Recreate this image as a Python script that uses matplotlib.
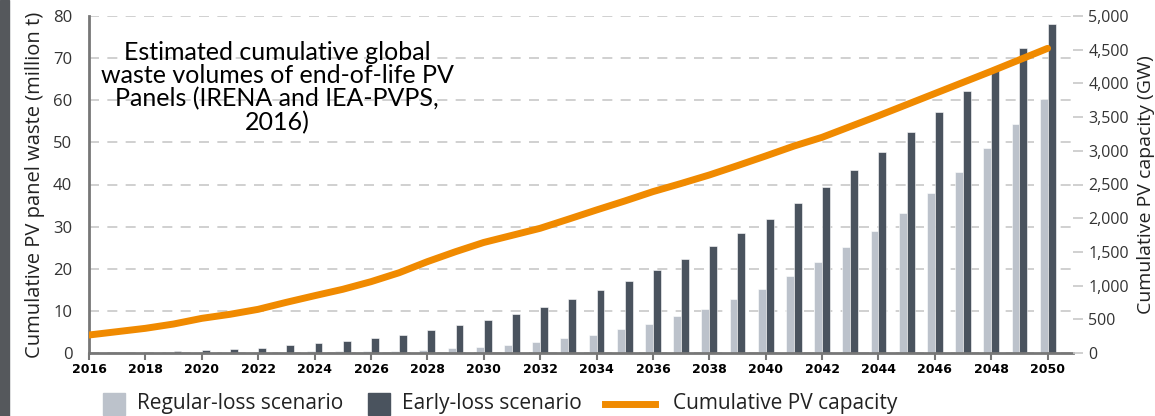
import matplotlib.pyplot as plt
import matplotlib.ticker as mticker
from matplotlib.patches import Rectangle
from matplotlib.lines import Line2D
import numpy as np

# data
years = np.arange(2016, 2051)
regular_loss = [0.05, 0.08, 0.1, 0.15, 0.2, 0.25, 0.3, 0.35, 0.4, 0.45, 0.4, 0.5,
                0.8, 1.2, 1.5, 2.0, 2.5, 3.6, 4.3, 5.6, 6.9, 8.7, 10.5, 12.8,
                15.3, 18.2, 21.5, 25.1, 28.9, 33.2, 38.1, 43.0, 48.6, 54.3, 60.4]
early_loss = [0.1, 0.2, 0.3, 0.5, 0.8, 1.0, 1.3, 1.8, 2.3, 2.9, 3.6, 4.3,
              5.4, 6.6, 7.9, 9.3, 11.0, 12.8, 14.9, 17.2, 19.7, 22.2, 25.3, 28.6,
              31.9, 35.6, 39.4, 43.5, 47.8, 52.4, 57.1, 62.2, 67.2, 72.4, 78.1]
cap_years = [2016, 2018, 2019, 2020, 2021, 2022, 2023, 2024, 2025, 2026, 2027,
             2028, 2029, 2030, 2032, 2033, 2034, 2035, 2036, 2037, 2038, 2039,
             2040, 2041, 2042, 2044, 2046, 2048, 2050]
cap_gw = [267, 366, 430, 514, 574, 648, 752, 850, 945, 1058, 1191,
          1355, 1503, 1640, 1850, 1985, 2122, 2255, 2394, 2515, 2641, 2780,
          2923, 3070, 3200, 3520, 3850, 4180, 4520]

light = '#bcc2cb'
dark = '#4a535e'
orange = '#f08a00'
W, H = 1155, 416

fig = plt.figure(figsize=(W / 100, H / 100), dpi=100)
ax = fig.add_axes([89 / W, 1 - 353 / H, (1073 - 89) / W, (353 - 16) / H])

bw = 0.28
ax.bar(years - bw / 2, regular_loss, width=bw, color=light, edgecolor='white', linewidth=0.4, zorder=2)
ax.bar(years + bw / 2, early_loss, width=bw, color=dark, edgecolor='white', linewidth=0.4, zorder=2)

ax.set_xlim(2016, 2050.9)
ax.set_ylim(0, 80)
ax.set_yticks(range(0, 81, 10))
ax.set_xticks(range(2016, 2051, 2))
ax.grid(axis='y', color='#c8c8c8', linestyle=(0, (6, 5)), linewidth=1.2, zorder=0)
for s in ['top', 'right']:
    ax.spines[s].set_visible(False)
ax.spines['left'].set_color('#777777')
ax.spines['left'].set_linewidth(2)
ax.spines['bottom'].set_color('#777777')
ax.spines['bottom'].set_linewidth(2)
ax.tick_params(axis='x', length=5, width=1.5, color='#777777', pad=2)
ax.tick_params(axis='y', length=0, pad=12, labelsize=12, labelcolor='#333333')
for lab in ax.get_xticklabels():
    lab.set_fontweight('bold')
    lab.set_fontsize(9)
    lab.set_family('DejaVu Sans')
for lab in ax.get_yticklabels():
    lab.set_family('Open Sans')
ax.set_ylabel('Cumulative PV panel waste (million t)', fontsize=14.5, family='Open Sans',
              color='#222222', labelpad=6)

ax2 = ax.twinx()
ax2.plot(cap_years, cap_gw, color=orange, linewidth=5, solid_capstyle='round',
         solid_joinstyle='round', zorder=5)
ax2.set_ylim(0, 5000)
ax2.set_yticks(range(0, 5001, 500))
ax2.yaxis.set_major_formatter(mticker.FuncFormatter(lambda v, p: f'{int(v):,}'))
for s in ['top', 'right', 'left', 'bottom']:
    ax2.spines[s].set_visible(False)
ax2.tick_params(axis='y', length=7, width=1.2, color='#c8c8c8', pad=4, labelsize=11.5, labelcolor='#333333')
for lab in ax2.get_yticklabels():
    lab.set_family('Open Sans')
ax2.set_ylabel('Cumulative PV capacity (GW)', fontsize=14, family='Open Sans',
               color='#222222', labelpad=6)

ax.text(0.191, 0.925, 'Estimated cumulative global\nwaste volumes of end-of-life PV\nPanels (IRENA and IEA-PVPS,\n2016)',
        transform=ax.transAxes, ha='center', va='top', fontsize=18, family='Lato',
        linespacing=1.0, zorder=10)

# left dark strip
fig.add_artist(Rectangle((0, 0), 9 / W, 1, transform=fig.transFigure, color='#55585c', zorder=0))

# legend
ly = 1 - 404 / H
fig.add_artist(Rectangle((103 / W, 1 - 415 / H), 22 / W, 22 / H, transform=fig.transFigure, color=light))
fig.text(137 / W, ly, 'Regular-loss scenario', fontsize=15, family='Open Sans', va='center', color='#222222')
fig.add_artist(Rectangle((368 / W, 1 - 415 / H), 22 / W, 22 / H, transform=fig.transFigure, color=dark))
fig.text(402 / W, ly, 'Early-loss scenario', fontsize=15, family='Open Sans', va='center', color='#222222')
fig.add_artist(Line2D([605 / W, 655 / W], [ly, ly], transform=fig.transFigure, color=orange, linewidth=5))
fig.text(673 / W, ly, 'Cumulative PV capacity', fontsize=15, family='Open Sans', va='center', color='#222222')

fig.savefig('out.png', dpi=100)
